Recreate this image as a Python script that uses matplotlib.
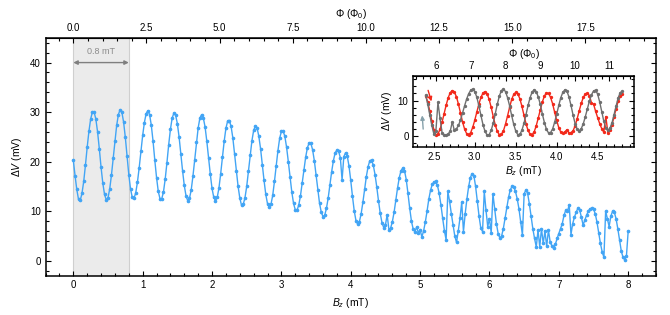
import numpy as np
import matplotlib.pyplot as plt
from matplotlib.patches import FancyArrowPatch
from matplotlib.ticker import MultipleLocator, FixedLocator, FormatStrFormatter

plt.rcParams['font.family'] = ['Liberation Sans', 'DejaVu Sans']
plt.rcParams['mathtext.fontset'] = 'custom'
plt.rcParams['mathtext.rm'] = 'Liberation Sans'
plt.rcParams['mathtext.it'] = 'Liberation Sans:italic'
plt.rcParams['mathtext.bf'] = 'Liberation Sans:bold'

# flux per field (Phi_0 per mT)
phi_per_mt = 2.37

# main sweep: Bz from 0 to 8 mT, one point every 0.025 mT
b_main = np.arange(321) * 0.025
dv_main = [
    20.3, 17.2, 14.4, 12.4, 12.2, 13.6, 16.0, 19.3,
    22.9, 26.1, 28.6, 30.0, 30.0, 28.6, 26.0, 22.6,
    18.9, 15.7, 13.4, 12.3, 12.7, 14.5, 17.3, 20.7,
    24.2, 27.3, 29.5, 30.5, 30.0, 28.0, 24.9, 21.1,
    17.4, 14.5, 12.8, 12.6, 13.7, 15.9, 18.8, 22.1,
    25.3, 27.9, 29.7, 30.3, 29.5, 27.3, 24.1, 20.3,
    16.8, 14.0, 12.5, 12.5, 13.9, 16.5, 19.8, 23.4,
    26.5, 28.8, 29.8, 29.4, 27.7, 25.0, 21.6, 18.2,
    15.2, 13.1, 12.1, 12.6, 14.3, 17.1, 20.4, 23.9,
    26.8, 28.8, 29.5, 28.8, 27.0, 24.1, 20.8, 17.5,
    14.6, 12.8, 12.1, 12.8, 14.7, 17.6, 20.9, 24.1,
    26.7, 28.2, 28.3, 27.1, 24.8, 21.6, 18.2, 15.1,
    12.7, 11.2, 11.4, 12.7, 15.0, 18.1, 21.3, 24.2,
    26.3, 27.2, 26.8, 25.1, 22.6, 19.4, 16.2, 13.4,
    11.5, 10.8, 11.4, 13.2, 16.0, 19.1, 22.2, 24.7,
    26.1, 26.2, 25.1, 22.9, 20.0, 16.9, 13.9, 11.6,
    10.3, 10.2, 11.2, 13.1, 15.7, 18.4, 20.9, 22.8,
    23.8, 23.7, 22.4, 20.2, 17.3, 14.3, 11.6, 9.8,
    8.9, 9.2, 10.6, 12.7, 15.3, 18.0, 20.2, 21.8,
    22.3, 22.1, 20.8, 16.3, 21.0, 21.8, 21.1, 19.1,
    16.2, 13.0, 10.1, 8.1, 7.4, 7.9, 9.5, 11.8,
    14.4, 17.0, 19.0, 20.2, 20.3, 19.3, 17.4, 14.9,
    12.1, 9.6, 7.7, 6.7, 7.2, 9.3, 6.3, 6.6,
    7.9, 9.8, 12.3, 14.7, 16.8, 18.2, 18.7, 18.2,
    16.4, 13.6, 10.6, 8.0, 6.4, 5.9, 6.8, 5.6,
    6.3, 4.8, 6.0, 7.8, 10.0, 12.4, 14.2, 15.4,
    15.9, 16.0, 15.2, 13.6, 11.3, 8.6, 6.1, 4.2,
    14.0, 12.0, 9.5, 7.2, 5.0, 3.7, 6.0, 8.6,
    11.8, 5.9, 9.5, 12.5, 15.0, 16.8, 17.6, 17.2,
    15.0, 12.0, 9.0, 6.6, 5.9, 14.0, 10.2, 6.9,
    8.5, 5.6, 13.5, 10.5, 7.5, 5.5, 4.6, 5.0,
    6.5, 8.6, 10.8, 12.8, 14.3, 15.0, 14.9, 14.0,
    12.5, 10.5, 7.8, 5.2, 13.5, 14.3, 13.6, 11.5,
    9.0, 6.5, 4.5, 2.8, 6.2, 2.8, 6.5, 3.5,
    6.0, 2.9, 6.2, 3.8, 3.0, 2.5, 3.3, 4.5,
    5.5, 6.5, 7.5, 9.2, 10.2, 10.0, 11.3, 5.3,
    7.5, 8.8, 9.8, 10.6, 10.3, 8.8, 7.2, 8.2,
    9.2, 10.0, 10.5, 10.6, 10.4, 9.5, 7.8, 5.6,
    3.5, 1.8, 0.7, 10.0, 8.5, 6.9, 9.0, 10.0,
    9.8, 8.5, 6.5, 4.2, 2.0, 0.7, 0.2, 1.0,
    6.0,
]

# inset sweeps: Bz from 2.4 to 4.8 mT, one point every 0.025 mT
b_inset = 2.4 + np.arange(97) * 0.025
dv_red = [
    11.3, 9.6, 7.0, 4.2, 1.8, 0.3, 0.6, 1.9,
    3.9, 6.3, 8.7, 10.8, 12.2, 12.8, 12.4, 11.1,
    9.0, 6.5, 4.0, 2.0, 0.7, 0.4, 1.0, 2.5,
    4.5, 6.8, 9.0, 10.9, 12.1, 12.5, 11.9, 10.3,
    8.1, 5.5, 3.1, 1.3, 0.4, 0.5, 1.5, 3.4,
    5.7, 8.1, 10.3, 11.7, 12.3, 11.9, 10.5, 8.4,
    5.9, 3.5, 1.6, 0.5, 0.4, 1.2, 2.9, 5.1,
    7.4, 9.6, 11.3, 12.1, 12.0, 10.9, 9.1, 6.7,
    4.4, 2.4, 1.1, 0.8, 1.2, 1.8, 0.9, 1.0,
    1.5, 2.9, 4.9, 7.1, 9.2, 10.9, 11.8, 12.0,
    11.4, 9.3, 9.0, 7.0, 5.2, 3.5, 2.1, 1.1,
    5.5, 0.9, 1.6, 3.2, 5.4, 7.7, 9.8, 11.2,
    11.8,
]
dv_gray = [
    11.5, 9.0, 6.0, 3.0, 0.6, 1.5, 9.5, 5.0,
    1.0, 0.2, 0.3, 0.6, 1.4, 4.0, 1.6, 2.0,
    3.0, 4.5, 6.5, 8.5, 10.4, 11.9, 12.9, 13.2,
    12.5, 10.9, 8.5, 5.8, 3.2, 1.3, 0.3, 0.4,
    1.6, 3.7, 6.3, 9.0, 11.3, 12.8, 13.2, 12.5,
    10.8, 8.5, 5.8, 3.3, 1.4, 0.4, 0.5, 1.6,
    3.6, 6.0, 8.6, 10.8, 12.4, 13.0, 12.5, 11.0,
    8.9, 6.2, 3.8, 1.9, 0.9, 1.0, 2.0, 3.9,
    6.2, 8.6, 10.8, 12.3, 13.0, 12.6, 11.0, 8.6,
    5.9, 3.5, 1.9, 1.5, 2.1, 3.5, 5.5, 7.7,
    9.9, 11.6, 12.7, 12.9, 11.8, 9.6, 6.9, 4.2,
    2.3, 1.6, 2.2, 3.7, 6.0, 8.4, 10.7, 12.2,
    12.6,
]

span_b = [0.0, 0.8]
phi_ticks_main = [0.0, 2.5, 5.0, 7.5, 10.0, 12.5, 15.0, 17.5]
phi_ticks_inset = [6, 7, 8, 9, 10, 11]


def to_phi(b):
    return b * phi_per_mt


def to_b(phi):
    return phi / phi_per_mt


def style_ticks(axis, size):
    axis.tick_params(which='both', direction='in', labelsize=size, width=0.8)
    axis.tick_params(which='major', length=3.5)
    axis.tick_params(which='minor', length=2)


fig = plt.figure(figsize=(6.7, 3.15), dpi=100)

# main panel
ax = fig.add_axes([0.068, 0.125, 0.911, 0.755])
ax.axvspan(span_b[0], span_b[1], facecolor='#ebebeb', edgecolor='#cfcfcf', lw=0.8, zorder=0)
ax.add_patch(FancyArrowPatch((span_b[0], 40), (span_b[1], 40), arrowstyle='<|-|>',
                             color='#7f7f7f', lw=1, mutation_scale=6, shrinkA=0, shrinkB=0))
ax.text(sum(span_b) / 2, 42.2, '0.8 mT', ha='center', va='center', fontsize=6.5, color='#8c8c8c')
ax.plot(b_main, dv_main, color='#42a5f5', lw=1, marker='o', ms=1.6)

ax.set_xlim(-0.4, 8.4)
ax.set_ylim(-3, 45)
ax.xaxis.set_major_locator(MultipleLocator(1))
ax.xaxis.set_minor_locator(MultipleLocator(0.2))
ax.yaxis.set_major_locator(MultipleLocator(10))
ax.yaxis.set_minor_locator(MultipleLocator(2))
style_ticks(ax, 7)
ax.tick_params(which='both', right=True)
for s in ax.spines.values():
    s.set_linewidth(1.1)
ax.set_xlabel(r'$B_z$ (mT)', fontsize=7.5, labelpad=4)
ax.set_ylabel(r'$\Delta V$ (mV)', fontsize=7.5, labelpad=4)

top = ax.secondary_xaxis('top', functions=(to_phi, to_b))
top.xaxis.set_major_locator(FixedLocator(phi_ticks_main))
top.xaxis.set_minor_locator(MultipleLocator(0.5))
top.xaxis.set_major_formatter(FormatStrFormatter('%.1f'))
style_ticks(top, 7)
top.set_xlabel(r'$\Phi$ ($\Phi_0$)', fontsize=7.5, labelpad=4)

# inset
axin = fig.add_axes([0.617, 0.534, 0.330, 0.226])
axin.plot(b_inset, dv_red, color='#f2291b', lw=1, marker='o', ms=1.4)
axin.plot(b_inset, dv_gray, color='#6f6f6f', lw=1, marker='o', ms=1.4)
axin.add_patch(FancyArrowPatch((2.42, 13.6), (2.48, 9.0), arrowstyle='-|>',
                               color='#f2291b', lw=1, mutation_scale=6))
axin.add_patch(FancyArrowPatch((2.372, 1.2), (2.355, 6.6), arrowstyle='-|>',
                               color='#86a1ab', lw=1, mutation_scale=6))
axin.set_xlim(2.25, 4.95)
axin.set_ylim(-3, 17)
axin.xaxis.set_major_locator(MultipleLocator(0.5))
axin.xaxis.set_minor_locator(MultipleLocator(0.1))
axin.yaxis.set_major_locator(MultipleLocator(10))
axin.yaxis.set_minor_locator(MultipleLocator(2))
style_ticks(axin, 7)
axin.tick_params(which='both', right=True)
for s in axin.spines.values():
    s.set_linewidth(1.1)
axin.set_xlabel(r'$B_z$ (mT)', fontsize=7.5, labelpad=2)
axin.set_ylabel(r'$\Delta V$ (mV)', fontsize=7.5, labelpad=3)

intop = axin.secondary_xaxis('top', functions=(to_phi, to_b))
intop.xaxis.set_major_locator(FixedLocator(phi_ticks_inset))
intop.xaxis.set_minor_locator(MultipleLocator(0.2))
intop.xaxis.set_major_formatter(FormatStrFormatter('%d'))
style_ticks(intop, 7)
intop.set_xlabel(r'$\Phi$ ($\Phi_0$)', fontsize=7.5, labelpad=3)

fig.savefig('out.png', dpi=100)
